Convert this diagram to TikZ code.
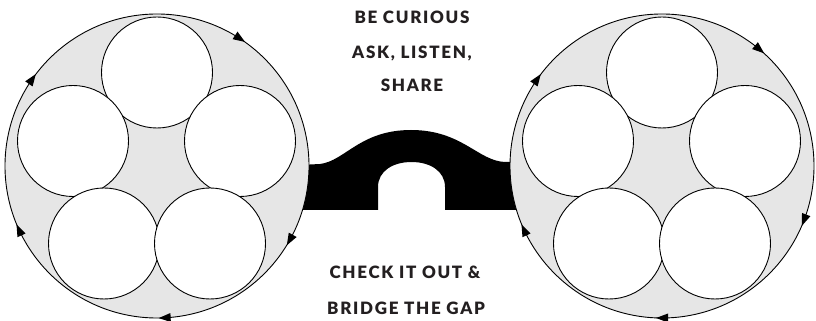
\documentclass[tikz,border=0pt]{standalone}
\usepackage{fontspec}
\setmainfont{Lato}[BoldFont={Lato Black},LetterSpace=10]
\usepackage{tikz}
\usetikzlibrary{arrows.meta, decorations.markings, calc}
\definecolor{ringgray}{HTML}{E6E6E6}
\definecolor{inkdark}{HTML}{231F20}
% clockwise tip on a ring
\newcommand{\cwtip}{\fill[black] (-6pt,0) -- (6pt,4.5pt) -- (6pt,-4.5pt) -- cycle;}

\begin{document}
\begin{tikzpicture}[x=1pt,y=1pt,
  ring/.style={draw=black,fill=ringgray,line width=0.9pt},
  seat/.style={circle,draw=black,fill=white,line width=0.9pt,
    minimum size=111pt,inner sep=0pt},
  caption/.style={font=\bfseries\fontsize{17}{17}\selectfont,text=inkdark}]
  \useasboundingbox (0,0) rectangle (816,321);
  \coordinate (lc) at (157,155);
  \coordinate (rc) at (662,155);
  % bridge
  \fill[black] (300,156) -- (320,157) .. controls (345,160) and (360,191) .. (411,191)
    .. controls (462,191) and (478,160) .. (505,159) -- (520,159) -- (520,111)
    -- (445,111) -- (445,134) .. controls (445,150) and (430,159) .. (411.5,159)
    .. controls (393,159) and (378,150) .. (378,134) -- (378,111) -- (300,111) -- cycle;
  % rings with clockwise tips
  \draw[ring,postaction={decorate},decoration={markings,
    mark=at position 0.158 with {\cwtip}, mark=at position 0.403 with {\cwtip},
    mark=at position 0.569 with {\cwtip}, mark=at position 0.758 with {\cwtip},
    mark=at position 0.919 with {\cwtip}}] (lc) circle (152);
  \draw[ring,postaction={decorate},decoration={markings,
    mark=at position 0.139 with {\cwtip}, mark=at position 0.403 with {\cwtip},
    mark=at position 0.569 with {\cwtip}, mark=at position 0.750 with {\cwtip},
    mark=at position 0.942 with {\cwtip}}] (rc) circle (152);
  % seats
  \foreach \s/\c in {L/lc,R/rc}{
    \node[seat] (\s1) at ($(\c)+(0,93.5)$) {};
    \node[seat] (\s2) at ($(\c)+(-84,25)$) {};
    \node[seat] (\s3) at ($(\c)+(83,25)$) {};
    \node[seat] (\s4) at ($(\c)+(-53,-77.5)$) {};
    \node[seat] (\s5) at ($(\c)+(53,-77.5)$) {};
  }
  \node[caption] (curious) at (412,304) {BE CURIOUS};
  \node[caption] (ask) at (412,268) {ASK, LISTEN,};
  \node[caption] (share) at (412,236) {SHARE};
  \node[caption] (check) at (405,49) {CHECK IT OUT \&};
  \node[caption] (gap) at (406,13) {BRIDGE THE GAP};
\end{tikzpicture}
\end{document}
